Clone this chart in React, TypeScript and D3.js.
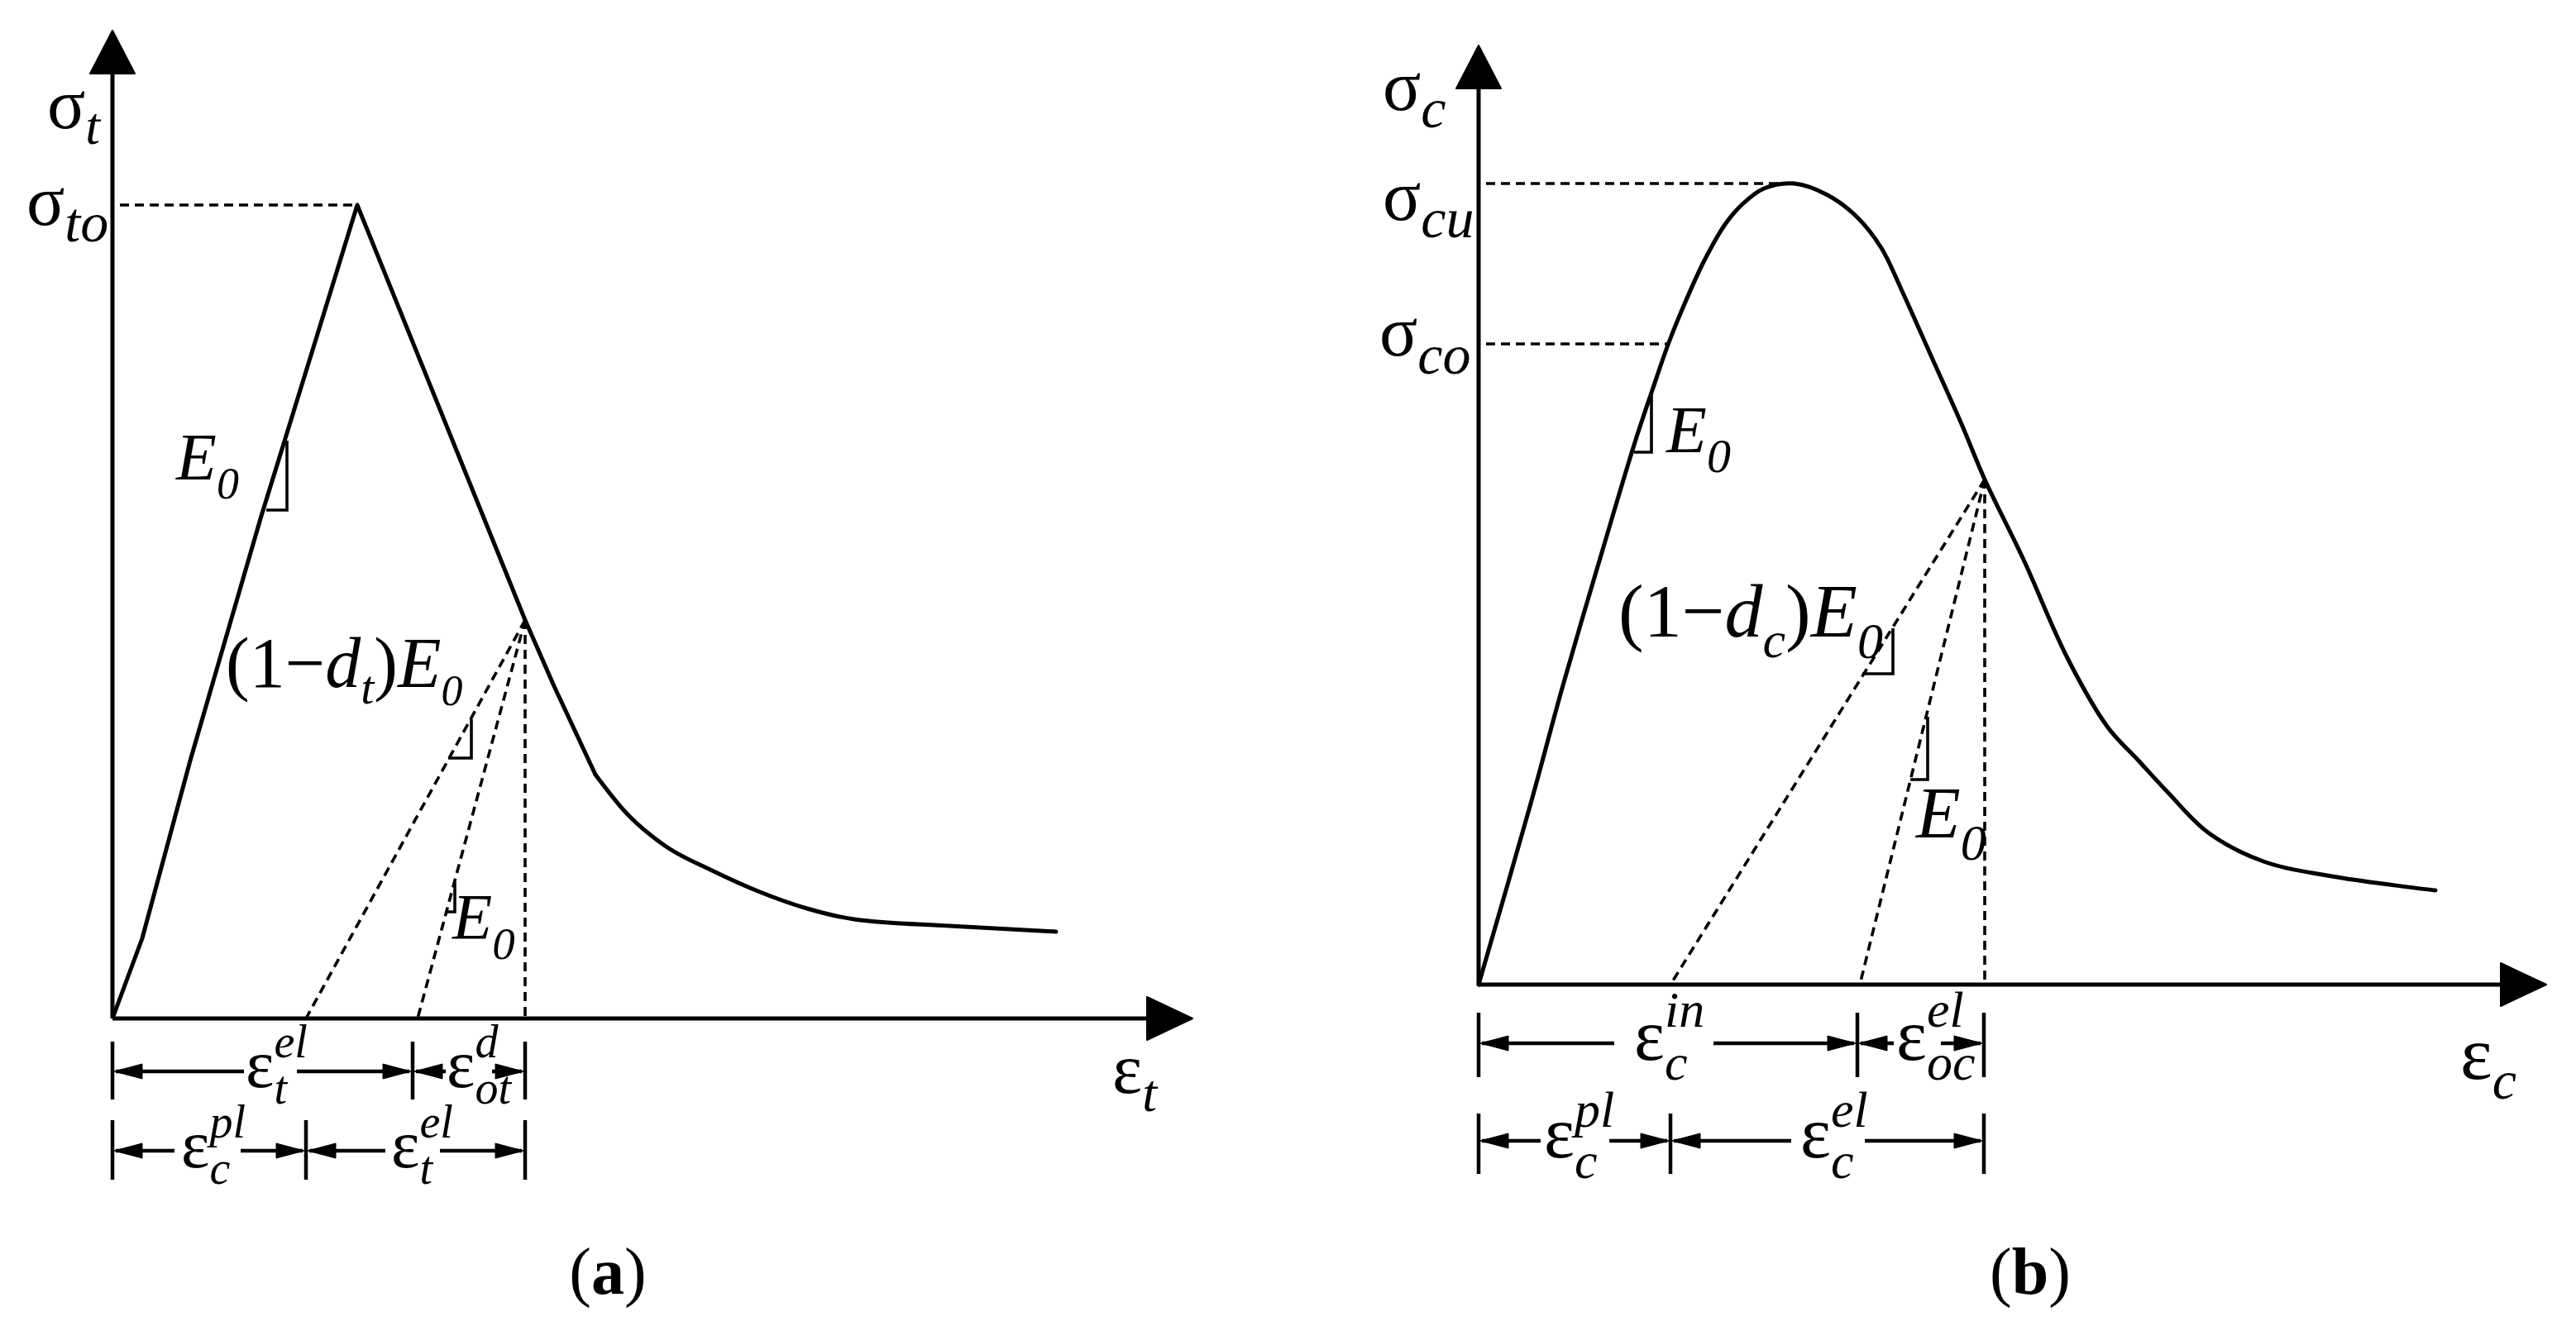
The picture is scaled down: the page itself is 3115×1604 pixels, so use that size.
import * as d3 from 'd3'

type Pt = [number, number]
type Slope = { x: number; top: number; bottom: number; left: number }
type DimRowSpec = { y: number; tick: [number, number]; marks: number[]; gaps: [number, number][] }

const FONT = "'Liberation Serif', 'Times New Roman', serif"

// ---- (a) tension: curve and construction values, strain/stress units ----
// straight loading / softening branch up to the knee
const tensionBranch: Pt[] = [
  [0, 0], [3.6, 9.7], [9.4, 31.2], [18.0, 60.8], [20.85, 70.0], [25.6, 85.4], [29.6, 98.4],
  [49.9, 48.2], [53.4, 40.2], [58.4, 29.5],
]
// smooth tail after the knee
const tensionTail: Pt[] = [
  [58.4, 29.5], [62.0, 25.0], [66.8, 20.9], [72.5, 17.9], [78.3, 15.3],
  [84.0, 13.3], [89.7, 12.0], [101.2, 11.2], [114.1, 10.5],
]
const tensionPeak: Pt = [29.6, 98.4]
const tensionUnload: Pt = [49.9, 48.2]
const tensionFeet = [23.4, 36.9]
const tensionSlopes: Slope[] = [
  { x: 21.1, top: 69.9, bottom: 61.5, left: 18.6 },
  { x: 43.4, top: 36.2, bottom: 31.5, left: 40.6 },
  { x: 41.4, top: 16.5, bottom: 12.9, left: 40.4 },
]
const tensionRows: DimRowSpec[] = [
  { y: -6.4, tick: [-2.8, -9.8], marks: [0, 36.3, 49.9], gaps: [[15.9, 22.3], [40.3, 45.9]] },
  { y: -16.0, tick: [-12.3, -19.5], marks: [0, 23.4, 49.9], gaps: [[7.5, 15.5], [33.0, 39.6]] },
]

// ---- (b) compression ----
const compCurve: Pt[] = [
  [0, 0], [6.3, 21.9], [10.2, 36.2], [15.0, 52.6], [18.9, 65.6], [21.0, 71.9], [22.9, 77.4],
  [24.5, 81.4], [27.2, 87.4], [29.9, 92.1], [31.9, 94.4], [34.5, 96.3], [38.2, 96.9],
  [42.2, 95.5], [45.7, 92.9], [48.7, 89.1], [51.2, 83.9], [54.6, 76.3], [58.4, 67.8],
  [61.2, 61.1], [65.9, 51.4], [71.2, 39.5], [76.1, 31.1], [79.7, 27.2], [83.3, 23.3],
  [88.2, 18.4], [94.9, 14.9], [103.8, 13.0], [115.7, 11.4],
]
const compPeak: Pt = [38.2, 96.9]
const compYield: Pt = [22.9, 77.5]
const compUnload: Pt = [61.2, 61.1]
const compFeet = [23.2, 46.1]
const compSlopes: Slope[] = [
  { x: 20.9, top: 71.7, bottom: 64.4, left: 18.8 },
  { x: 50.1, top: 43.1, bottom: 37.6, left: 46.4 },
  { x: 54.3, top: 32.4, bottom: 24.8, left: 52.2 },
]
const compRows: DimRowSpec[] = [
  { y: -7.1, tick: [-3.4, -11.2], marks: [0, 45.8, 61.1], gaps: [[16.4, 28.4], [50.2, 55.9]] },
  { y: -18.9, tick: [-15.6, -22.9], marks: [0, 23.2, 61.1], gaps: [[7.5, 15.8], [37.8, 46.7]] },
]

// scales: 10 px per unit, origin at the axes corner
const xA = d3.scaleLinear().domain([0, 130.6]).range([136, 1442])
const yA = d3.scaleLinear().domain([0, 119.5]).range([1232, 37])
const xB = d3.scaleLinear().domain([0, 129.1]).range([1788, 3079])
const yB = d3.scaleLinear().domain([0, 113.6]).range([1191, 55])

type Scale = d3.ScaleLinear<number, number>

function Axes({ x, y }: { x: Scale; y: Scale }) {
  const [x0, xt] = x.range()
  const [y0, yt] = y.range()
  return (
    <g>
      <line x1={x0} y1={y0} x2={x0} y2={yt + 50} stroke="#000" strokeWidth={5} />
      <line x1={x0} y1={y0} x2={xt - 53} y2={y0} stroke="#000" strokeWidth={5} />
      <polygon points={`${x0},${yt} ${x0 - 27},${yt + 52} ${x0 + 27},${yt + 52}`} fill="#000" stroke="#000" strokeWidth={2} strokeLinejoin="round" />
      <polygon points={`${xt},${y0} ${xt - 55},${y0 - 26} ${xt - 55},${y0 + 26}`} fill="#000" stroke="#000" strokeWidth={2} strokeLinejoin="round" />
    </g>
  )
}

function Dashed({ x1, y1, x2, y2 }: { x1: number; y1: number; x2: number; y2: number }) {
  return <line x1={x1} y1={y1} x2={x2} y2={y2} stroke="#000" strokeWidth={3.6} strokeDasharray="11 7" />
}

function SlopeMark({ s, x, y }: { s: Slope; x: Scale; y: Scale }) {
  return (
    <polyline
      points={`${x(s.left)},${y(s.bottom)} ${x(s.x)},${y(s.bottom)} ${x(s.x)},${y(s.top)}`}
      fill="none" stroke="#000" strokeWidth={3.6}
    />
  )
}

function DimRow({ row, x, y }: { row: DimRowSpec; x: Scale; y: Scale }) {
  const yy = y(row.y)
  const L = 36
  const H = 9
  return (
    <g stroke="#000" strokeWidth={4.5}>
      {row.marks.map((m, i) => (
        <line key={'t' + i} x1={x(m)} x2={x(m)} y1={y(row.tick[0])} y2={y(row.tick[1])} strokeWidth={4.5} />
      ))}
      {row.gaps.map((g, i) => {
        const a = x(row.marks[i])
        const b = x(row.marks[i + 1])
        return (
          <g key={'s' + i}>
            <line x1={a + 4} x2={x(g[0])} y1={yy} y2={yy} />
            <line x1={x(g[1])} x2={b - 4} y1={yy} y2={yy} />
            <polygon points={`${a + 2},${yy} ${a + L},${yy - H} ${a + L},${yy + H}`} fill="#000" strokeWidth={1} />
            <polygon points={`${b - 2},${yy} ${b - L},${yy - H} ${b - L},${yy + H}`} fill="#000" strokeWidth={1} />
          </g>
        )
      })}
    </g>
  )
}

function Script(props: {
  x: number; y: number; base: string; sup?: string; sub?: string
  size: number; ss: number; supDy?: number; subDy?: number
}) {
  const { x, y, base, sup, sub, size, ss, supDy = -36, subDy = 21 } = props
  return (
    <g fontFamily={FONT} fill="#000">
      <text x={x} y={y} fontSize={size}>
        {base}
        {sup && <tspan fontSize={ss} fontStyle="italic" dy={supDy}>{sup}</tspan>}
      </text>
      {sub && (
        <text x={x} y={y} fontSize={size}>
          <tspan fillOpacity={0}>{base}</tspan>
          <tspan fontSize={ss} fontStyle="italic" dy={subDy}>{sub}</tspan>
        </text>
      )}
    </g>
  )
}

function E0({ x, y, size, ss, dy }: { x: number; y: number; size: number; ss: number; dy: number }) {
  return (
    <text x={x} y={y} fontFamily={FONT} fontSize={size} fontStyle="italic">
      E<tspan fontSize={ss} dy={dy}>0</tspan>
    </text>
  )
}

function Damaged({ x, y, size, ss, sub, dy, ss0, dy0 }: {
  x: number; y: number; size: number; ss: number; sub: string; dy: number; ss0: number; dy0: number
}) {
  return (
    <text x={x} y={y} fontFamily={FONT} fontSize={size}>
      (1−<tspan fontStyle="italic">d</tspan>
      <tspan fontStyle="italic" fontSize={ss} dy={dy}>{sub}</tspan>
      <tspan dy={-dy}>)</tspan>
      <tspan fontStyle="italic">E</tspan>
      <tspan fontStyle="italic" fontSize={ss0} dy={dy0}>0</tspan>
    </text>
  )
}

function Caption({ x, y, letter }: { x: number; y: number; letter: string }) {
  return (
    <text x={x} y={y} fontFamily={FONT} fontSize={80} textAnchor="middle">
      (<tspan fontWeight="bold">{letter}</tspan>)
    </text>
  )
}

function TensionPanel() {
  const x = xA
  const y = yA
  const straight = d3.line<Pt>().x((d) => x(d[0])).y((d) => y(d[1]))
  const smooth = d3.line<Pt>().x((d) => x(d[0])).y((d) => y(d[1])).curve(d3.curveMonotoneX)
  const [ux, uy] = tensionUnload
  return (
    <g>
      <Axes x={x} y={y} />
      <Dashed x1={x(0.9)} y1={y(tensionPeak[1])} x2={x(tensionPeak[0])} y2={y(tensionPeak[1])} />
      {tensionFeet.map((f) => (
        <Dashed key={f} x1={x(ux)} y1={y(uy)} x2={x(f)} y2={y(0)} />
      ))}
      <Dashed x1={x(ux)} y1={y(uy)} x2={x(ux)} y2={y(0)} />
      <path d={straight(tensionBranch) || ''} fill="none" stroke="#000" strokeWidth={5} strokeLinejoin="round" />
      <path d={smooth(tensionTail) || ''} fill="none" stroke="#000" strokeWidth={5} strokeLinecap="round" />
      {tensionSlopes.map((s, i) => <SlopeMark key={i} s={s} x={x} y={y} />)}
      {tensionRows.map((r, i) => <DimRow key={i} row={r} x={x} y={y} />)}

      <Script x={x(-7.9)} y={y(107.7)} base="σ" sub="t" size={86} ss={64} subDy={19} />
      <Script x={x(-10.4)} y={y(96.0)} base="σ" sub="to" size={86} ss={68} subDy={20} />
      <E0 x={x(7.7)} y={y(65.2)} size={80} ss={54} dy={23} />
      <Damaged x={x(13.7)} y={y(40.1)} size={86} ss={58} sub="t" dy={20} ss0={52} dy0={22} />
      <E0 x={x(41.1)} y={y(9.7)} size={79} ss={55} dy={25} />
      <Script x={x(120.9)} y={y(-9.0)} base="ε" sub="t" size={86} ss={64} subDy={22} />

      <Script x={x(16.1)} y={y(-8.3)} base="ε" sup="el" sub="t" size={82} ss={56} supDy={-36} subDy={20} />
      <Script x={x(40.4)} y={y(-8.3)} base="ε" sup="d" sub="ot" size={82} ss={56} supDy={-36} subDy={20} />
      <Script x={x(8.3)} y={y(-18.0)} base="ε" sup="pl" sub="c" size={82} ss={56} supDy={-36} subDy={20} />
      <Script x={x(33.7)} y={y(-18.0)} base="ε" sup="el" sub="t" size={82} ss={56} supDy={-36} subDy={20} />

      <Caption x={x(59.9)} y={y(-33.3)} letter="a" />
    </g>
  )
}

function CompressionPanel() {
  const x = xB
  const y = yB
  const line = d3.line<Pt>().x((d) => x(d[0])).y((d) => y(d[1])).curve(d3.curveCatmullRom.alpha(0.5))
  const [ux, uy] = compUnload
  return (
    <g>
      <Axes x={x} y={y} />
      <Dashed x1={x(0.9)} y1={y(compPeak[1])} x2={x(compPeak[0])} y2={y(compPeak[1])} />
      <Dashed x1={x(0.9)} y1={y(compYield[1])} x2={x(compYield[0])} y2={y(compYield[1])} />
      {compFeet.map((f) => (
        <Dashed key={f} x1={x(ux)} y1={y(uy)} x2={x(f)} y2={y(0)} />
      ))}
      <Dashed x1={x(ux)} y1={y(uy)} x2={x(ux)} y2={y(0)} />
      <path d={line(compCurve) || ''} fill="none" stroke="#000" strokeWidth={5} strokeLinejoin="round" strokeLinecap="round" />
      {compSlopes.map((s, i) => <SlopeMark key={i} s={s} x={x} y={y} />)}
      {compRows.map((r, i) => <DimRow key={i} row={r} x={x} y={y} />)}

      <Script x={x(-11.6)} y={y(105.8)} base="σ" sub="c" size={86} ss={68} subDy={21} />
      <Script x={x(-11.6)} y={y(92.5)} base="σ" sub="cu" size={86} ss={68} subDy={21} />
      <Script x={x(-12.0)} y={y(76.1)} base="σ" sub="co" size={86} ss={68} subDy={22} />
      <E0 x={x(22.7)} y={y(64.4)} size={80} ss={58} dy={24} />
      <Damaged x={x(16.9)} y={y(42.1)} size={92} ss={62} sub="c" dy={25} ss0={62} dy0={26} />
      <E0 x={x(52.9)} y={y(17.8)} size={88} ss={62} dy={27} />
      <Script x={x(118.7)} y={y(-11.4)} base="ε" sub="c" size={92} ss={66} subDy={24} />

      <Script x={x(18.8)} y={y(-9.1)} base="ε" sup="in" sub="c" size={88} ss={62} supDy={-40} subDy={24} />
      <Script x={x(50.5)} y={y(-9.1)} base="ε" sup="el" sub="oc" size={88} ss={62} supDy={-40} subDy={24} />
      <Script x={x(7.9)} y={y(-20.9)} base="ε" sup="pl" sub="c" size={88} ss={62} supDy={-37} subDy={25} />
      <Script x={x(38.9)} y={y(-20.9)} base="ε" sup="el" sub="c" size={88} ss={62} supDy={-37} subDy={25} />

      <Caption x={x(66.7)} y={y(-37.4)} letter="b" />
    </g>
  )
}

export default function App() {
  return (
    <div style={{ position: 'absolute', left: 0, top: 0 }}>
      <svg width={3115} height={1604} viewBox="0 0 3115 1604" style={{ display: 'block', background: '#fff' }}>
        <TensionPanel />
        <CompressionPanel />
      </svg>
    </div>
  )
}
